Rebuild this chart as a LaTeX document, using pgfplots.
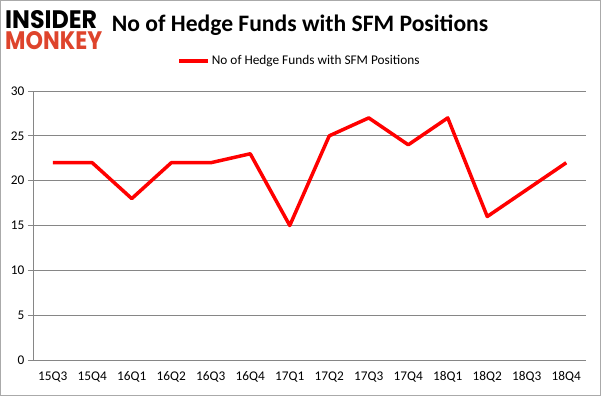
\documentclass[border=0pt]{standalone}
\usepackage{pgfplots}
\pgfplotsset{compat=1.18}
\usepackage{fontspec}
\setmainfont{Carlito}
\newfontfamily\logofont{Poppins}
\definecolor{gridgray}{RGB}{134,134,134}
\definecolor{monkeyred}{RGB}{222,68,44}
\begin{document}
\begin{tikzpicture}[x=1bp,y=1bp]
\draw[gridgray!70, line width=1bp] (0.5,0.5) rectangle (600.5,395.5);
\node[anchor=north west, inner sep=0] at (5,386) {\resizebox{92bp}{18bp}{\logofont\bfseries INSIDER}};
\node[anchor=north west, inner sep=0] at (5,365) {\resizebox{97bp}{18bp}{\logofont\bfseries\color{monkeyred}MONKEY}};
\node[anchor=center, inner sep=0] at (300,371) {\fontsize{23.6bp}{26bp}\selectfont\bfseries No of Hedge Funds with SFM Positions};
\begin{axis}[
  at={(33bp,36bp)}, anchor=south west,
  scale only axis, width=553bp, height=269bp,
  xmin=-0.5, xmax=13.5, ymin=0, ymax=30,
  ytick={0,5,...,30},
  xtick={0,...,13},
  xticklabels={15Q3,15Q4,16Q1,16Q2,16Q3,16Q4,17Q1,17Q2,17Q3,17Q4,18Q1,18Q2,18Q3,18Q4},
  extra x ticks={-0.5,0.5,...,13.5},
  extra x tick labels={},
  extra x tick style={major tick length=5bp, tick style={gridgray, line width=0.8bp}, tick pos=left, xtick align=outside},
  major x tick style={draw=none},
  ymajorgrids,
  grid style={gridgray, line width=0.8bp},
  axis x line*=bottom, axis y line*=left,
  axis line style={gridgray, line width=0.8bp},
  y tick style={gridgray, line width=0.8bp},
  ytick align=outside, major tick length=5bp,
  tick label style={font=\fontsize{13.3bp}{15bp}\selectfont, text=black},
  xticklabel style={yshift=-8bp},
  /pgf/number format/assume math mode=true,
  legend style={at={(0.5,1.112)}, xshift=-10bp, anchor=center, draw=none, fill=none, font=\fontsize{13.3bp}{15bp}\selectfont, legend columns=1},
  legend image code/.code={\draw[#1, line width=3.5bp] (0bp,0bp) -- (29bp,0bp);},
  clip=false,
]
\addplot[color=red, line width=3.5bp, line join=round] coordinates {
(0,22) (1,22) (2,18) (3,22) (4,22) (5,23) (6,15) (7,25) (8,27) (9,24) (10,27) (11,16) (12,19) (13,22)
};
\addlegendentry{No of Hedge Funds with SFM Positions}
\end{axis}
\end{tikzpicture}
\end{document}
